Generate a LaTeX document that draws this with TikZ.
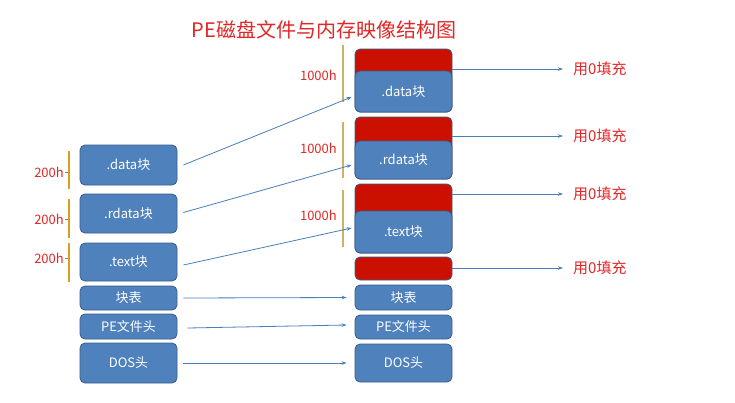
\documentclass[tikz,border=0pt]{standalone}
\usepackage{fontspec}
\setmainfont{Noto Sans CJK SC}
\usetikzlibrary{arrows.meta}
\definecolor{boxblue}{RGB}{79,129,189}
\definecolor{boxedge}{RGB}{56,93,138}
\definecolor{boxred}{RGB}{204,16,0}
\definecolor{txtred}{RGB}{228,38,38}
\definecolor{arrblue}{RGB}{74,126,187}
\definecolor{barL}{RGB}{212,160,30}
\definecolor{barR}{RGB}{200,180,100}
\tikzset{
 blk/.style={draw=boxedge, line width=0.8pt, fill=boxblue, rounded corners=5pt, minimum width=97pt, text=white, font=\fontsize{13}{13}\selectfont, inner sep=0pt},
 redblk/.style={blk, fill=boxred},
 arr/.style={draw=arrblue, line width=0.8pt, -{Stealth[length=5pt,width=3.5pt]}},
 lbl/.style={text=txtred, font=\fontsize{13}{13}\selectfont, inner sep=0pt, anchor=east},
 fillz/.style={text=txtred, font=\fontsize{15}{15}\selectfont, inner sep=0pt, anchor=west},
 barl/.style={draw=barL, line width=2pt},
 barr/.style={draw=barR, line width=2pt},
}
\begin{document}
\begin{tikzpicture}[x=1pt,y=-1pt]
\useasboundingbox[fill=white] (0,0) rectangle (735,402);
\node[text=txtred, font=\fontsize{20}{20}\selectfont, inner sep=0pt] (title) at (324,30) {PE磁盘文件与内存映像结构图};

% left column (disk file)
\node[blk, minimum height=40pt] (ld) at (128.5,165) {.data块};
\node[blk, minimum height=39pt] (lr) at (128.5,213.5) {.rdata块};
\node[blk, minimum height=38pt] (lt) at (128.5,262) {.text块};
\node[blk, minimum height=24pt] (lk) at (128.5,298) {块表};
\node[blk, minimum height=25pt] (lp) at (128.5,326.5) {PE文件头};
\node[blk, minimum height=40pt] (ls) at (128.5,363) {DOS头};

% left size bars
\draw[barl] (69,151) -- (69,189);
\draw[barl] (69,199) -- (69,238);
\draw[barl] (69,243) -- (69,282);
\draw[gray, line width=0.5pt] (65,172) -- (68,172);
\draw[gray, line width=0.5pt] (65,219) -- (68,219);
\draw[gray, line width=0.5pt] (65,258) -- (68,258);
\node[lbl] (s1) at (64,172) {200h};
\node[lbl] (s2) at (64,219) {200h};
\node[lbl] (s3) at (64,258) {200h};

% right column (memory image)
\node[redblk, minimum height=63pt] (r1) at (403.5,80.5) {};
\node[blk, minimum height=41pt] (rd) at (403.5,91.5) {.data块};
\node[redblk, minimum height=62pt] (r2) at (403.5,148) {};
\node[blk, minimum height=38pt] (rr) at (403.5,160) {.rdata块};
\node[redblk, minimum height=69pt] (r3) at (403.5,218.5) {};
\node[blk, minimum height=42pt] (rt) at (403.5,232) {.text块};
\node[redblk, minimum height=23pt] (r4) at (403.5,268.5) {};
\node[blk, minimum height=25pt] (rk) at (403.5,297.5) {块表};
\node[blk, minimum height=24pt] (rp) at (403.5,327) {PE文件头};
\node[blk, minimum height=38pt] (rs) at (403.5,363) {DOS头};

% right size bars
\draw[barr] (343,45) -- (343,102);
\draw[barr] (343,122) -- (343,178);
\draw[barr] (343,190) -- (343,247);
\node[lbl] (m1) at (337,75) {1000h};
\node[lbl] (m2) at (337,148) {1000h};
\node[lbl] (m3) at (337,215) {1000h};

% zero fill labels
\node[fillz] (f1) at (573,69) {用0填充};
\node[fillz] (f2) at (573,136) {用0填充};
\node[fillz] (f3) at (573,194) {用0填充};
\node[fillz] (f4) at (573,268) {用0填充};

% mapping arrows
\draw[arr] ([xshift=6pt]ld.east) -- ([xshift=-3pt,yshift=-5.5pt]rd.west);
\draw[arr] ([xshift=6pt,yshift=1pt]lr.east) -- ([xshift=-3pt,yshift=-5pt]rr.west);
\draw[arr] ([xshift=6pt,yshift=-3pt]lt.east) -- ([xshift=-3pt,yshift=4pt]rt.west);
\draw[arr] ([xshift=6pt]lk.east) -- ([xshift=-8pt]rk.west);
\draw[arr] ([xshift=10pt,yshift=-1.5pt]lp.east) -- ([xshift=-8pt,yshift=2pt]rp.west);
\draw[arr] ([xshift=6pt]ls.east) -- ([xshift=-8pt]rs.west);

% zero fill arrows
\draw[arr] (r1.east |- f1.west) -- ([xshift=-10pt]f1.west);
\draw[arr] (r2.east |- f2.west) -- ([xshift=-10pt]f2.west);
\draw[arr] (r3.east |- f3.west) -- ([xshift=-10pt]f3.west);
\draw[arr] (r4.east |- f4.west) -- ([xshift=-10pt]f4.west);
\end{tikzpicture}
\end{document}
